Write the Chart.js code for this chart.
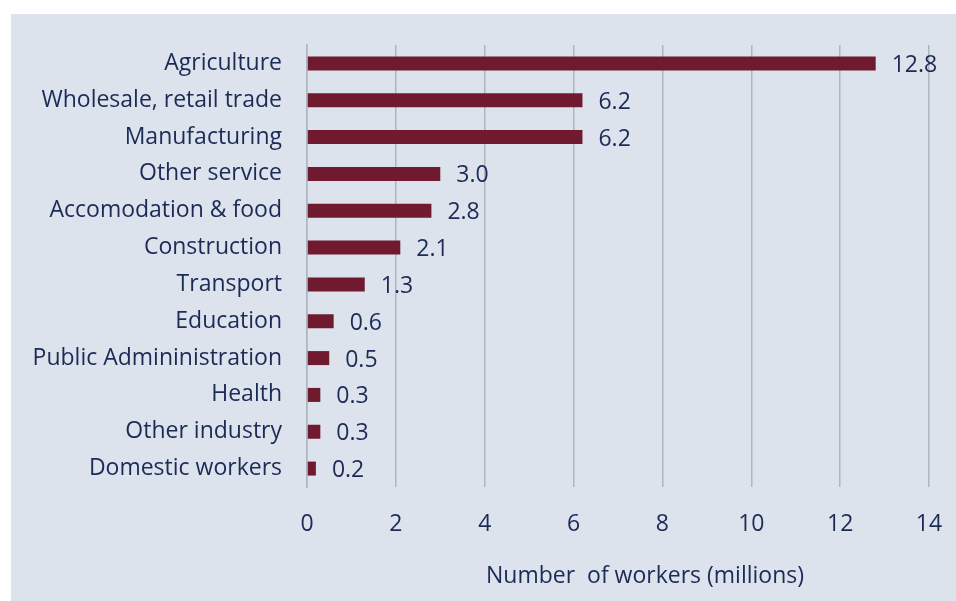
<!DOCTYPE html>
<html>
<head>
<meta charset="utf-8">
<title>Workers by sector</title>
<script src="https://cdn.jsdelivr.net/npm/chart.js@4"></script>
<style>
  body { margin: 0; background: #ffffff; }
  #panel {
    position: absolute;
    left: 11px;
    top: 14px;
    width: 945px;
    height: 587px;
    background: #dce3ed;
  }
</style>
</head>
<body>
<div id="panel">
  <canvas id="myChart" width="945" height="587"></canvas>
</div>
<script>
// sectors, top to bottom
var sectors = [
    'Agriculture', 'Wholesale, retail trade', 'Manufacturing', 'Other service',
    'Accomodation & food', 'Construction', 'Transport', 'Education',
    'Public Admininistration', 'Health', 'Other industry', 'Domestic workers'
];
// workers in millions
var workers = [12.8, 6.2, 6.2, 3.0, 2.8, 2.1, 1.3, 0.6, 0.5, 0.3, 0.3, 0.2];
var xTicks = [0, 2, 4, 6, 8, 10, 12, 14];
var axisTitle = 'Number  of workers (millions)';

var textColor = '#1c2a56';
var gridColor = '#aeb6bf';
var fontFamily = '"Open Sans", sans-serif';
var fontSize = 23;

// writes the value next to the end of each bar
var valueLabels = {
    id: 'valueLabels',
    afterDatasetsDraw: function(chart) {
        var ctx = chart.ctx;
        var meta = chart.getDatasetMeta(0);
        ctx.save();
        ctx.font = fontSize + 'px ' + fontFamily;
        ctx.fillStyle = textColor;
        ctx.textAlign = 'left';
        ctx.textBaseline = 'middle';
        meta.data.forEach(function(bar, i) {
            ctx.fillText(workers[i].toFixed(1), bar.x + 16, bar.y + 2);
        });
        ctx.restore();
    }
};

// axis title sits a little right of the plot centre
var xTitle = {
    id: 'xTitle',
    afterDraw: function(chart) {
        var ctx = chart.ctx;
        var area = chart.chartArea;
        ctx.save();
        ctx.font = fontSize + 'px ' + fontFamily;
        ctx.fillStyle = textColor;
        ctx.textAlign = 'center';
        ctx.textBaseline = 'middle';
        ctx.fillText(axisTitle, (area.left + area.right) / 2 + 27, 562);
        ctx.restore();
    }
};

var ctx = document.getElementById('myChart').getContext('2d');
var myChart = new Chart(ctx, {
    type: 'bar',
    data: {
        labels: sectors,
        datasets: [{
            data: workers,
            backgroundColor: '#701a30',
            borderWidth: 0,
            barPercentage: 0.38,
            categoryPercentage: 1
        }]
    },
    options: {
        indexAxis: 'y',
        responsive: false,
        animation: false,
        layout: { padding: { top: 31, right: 27, bottom: 0, left: 0 } },
        plugins: {
            legend: { display: false },
            tooltip: { enabled: false }
        },
        scales: {
            x: {
                min: 0,
                max: 14,
                afterBuildTicks: function(scale) {
                    scale.ticks = xTicks.map(function(v) { return { value: v }; });
                },
                afterFit: function(scale) {
                    scale.height = 114;
                    // no extra room for the end labels, layout padding handles it
                    scale.paddingLeft = 0;
                    scale.paddingRight = 0;
                },
                grid: { color: gridColor, lineWidth: 1.5, drawTicks: false },
                border: { display: false },
                ticks: {
                    color: textColor,
                    padding: 24,
                    font: { family: fontFamily, size: fontSize }
                }
            },
            y: {
                afterFit: function(scale) {
                    scale.width = 296;
                    scale.paddingTop = 0;
                    scale.paddingBottom = 0;
                },
                grid: { display: false, drawTicks: false },
                border: { display: true, color: gridColor, width: 1.5 },
                ticks: {
                    color: textColor,
                    padding: 25,
                    autoSkip: false,
                    font: { family: fontFamily, size: fontSize }
                }
            }
        }
    },
    plugins: [valueLabels, xTitle]
});
</script>
</body>
</html>
